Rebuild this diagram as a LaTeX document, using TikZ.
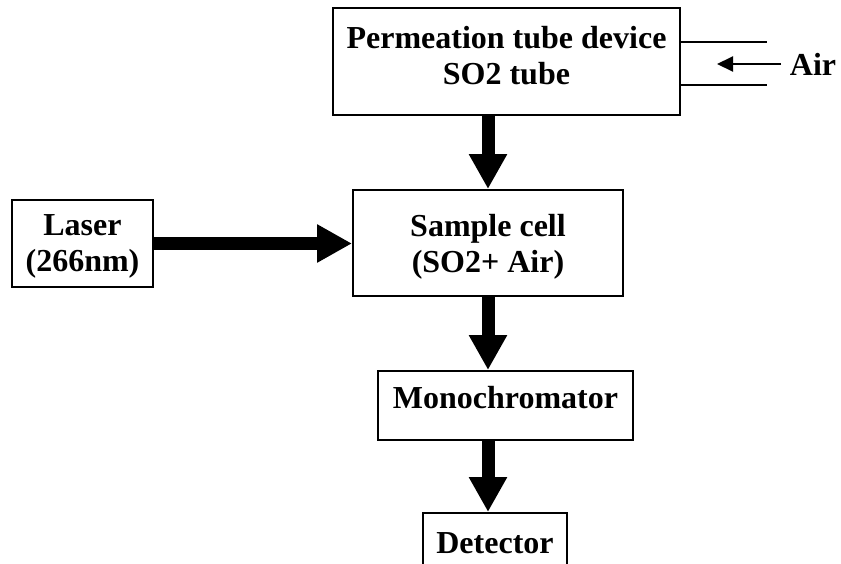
\documentclass[tikz,border=0pt]{standalone}
\usepackage{fontspec}
\setmainfont{Liberation Serif}
\usetikzlibrary{arrows.meta}

\begin{document}
\begin{tikzpicture}[x=1pt,y=-1pt,line width=2pt,
  box/.style={rectangle,draw,line width=2pt,align=center,inner sep=0pt,font=\bfseries\fontsize{32}{36}\selectfont},
  flow/.style={line width=13pt,-{Triangle[length=35pt,width=36pt]}},
  feed/.style={line width=2pt,-{Triangle[length=16pt,width=15pt]}}]

\useasboundingbox (0,0) rectangle (841,563);
\clip (0,0) rectangle (841,563);

\node (Permeation) at (506.5,61.5) [box,minimum width=347pt,minimum height=107pt,text depth=12pt] {Permeation tube device\\SO2 tube};
\node (Sample) at (488,243) [box,minimum width=270pt,minimum height=106pt,text depth=-9pt] {Sample cell\\(SO2+ Air)};
\node (Laser) at (82.5,243.5) [box,minimum width=141pt,minimum height=87pt,text depth=-5pt] {Laser\\(266nm)};
\node (Mono) at (505.5,405.5) [box,minimum width=255pt,minimum height=69pt,text depth=16pt] {Monochromator};
\node (Detector) at (495,543) [box,minimum width=144pt,minimum height=60pt] {Detector};
\node (Air) at (813,64) [font=\bfseries\fontsize{32}{36}\selectfont,inner sep=0pt] {Air};

% air supply
\coordinate (AirTop) at (767,42);
\coordinate (AirBottom) at (767,85);
\coordinate (AirStart) at (781,64);
\coordinate (AirEnd) at (717,64);
\draw (Permeation.east |- AirTop) -- (AirTop);
\draw (Permeation.east |- AirBottom) -- (AirBottom);
\draw[feed] (AirStart) -- (AirEnd);

% main flow
\draw[flow] (Sample.north |- Permeation.south) -- (Sample.north);
\draw[flow] (Laser.east) -- (Laser.east -| Sample.west);
\draw[flow] (Sample.south) -- (Sample.south |- Mono.north);
\draw[flow] (Sample.south |- Mono.south) -- (Sample.south |- Detector.north);

\end{tikzpicture}
\end{document}
